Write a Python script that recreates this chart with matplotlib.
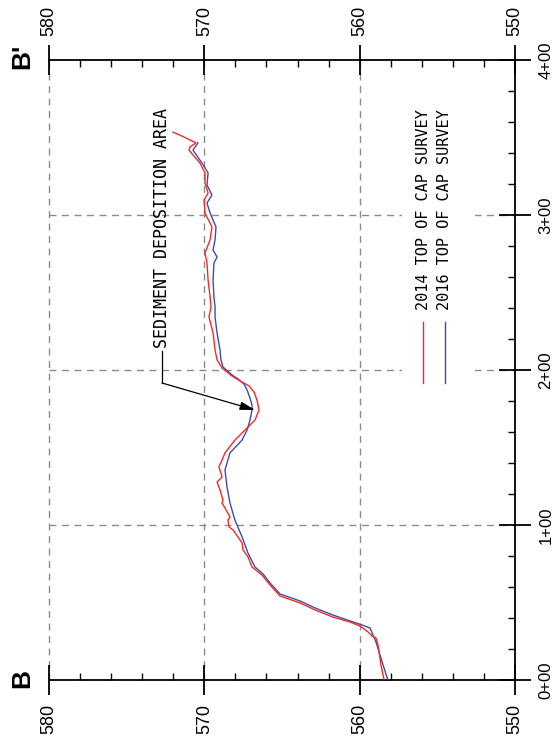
import matplotlib
matplotlib.use("Agg")
import matplotlib.pyplot as plt
from matplotlib.patches import Rectangle
from matplotlib.ticker import MultipleLocator, FuncFormatter

plt.rcParams["font.family"] = ["Liberation Sans", "DejaVu Sans"]

# ---------- data (station ft, elevation ft) ----------
sta_2014 = [0.0, 9.7, 22.6, 27.1, 28.4, 31.0, 34.8, 37.4, 40.6, 45.2, 49.7, 54.2,
            61.3, 67.7, 72.9, 79.4, 83.9, 88.4, 96.8, 98.7, 103.2, 105.2, 109.7,
            114.2, 116.1, 122.6, 127.7, 131.0, 133.5, 137.4, 146.5, 154.8, 161.3,
            167.7, 174.2, 180.6, 185.8, 189.7, 192.9, 196.1, 201.3, 206.5, 212.9,
            223.9, 234.2, 240.6, 247.1, 258.1, 269.0, 275.5, 283.9, 292.3, 301.3,
            309.7, 314.2, 320.6, 327.1, 333.5, 338.7, 341.9, 343.9, 346.5, 350.3,
            353.5]
elev_2014 = [558.43, 558.63, 558.82, 558.95, 559.21, 559.46, 559.98, 560.62, 561.72,
             562.88, 563.84, 565.13, 565.77, 566.29, 566.93, 567.19, 567.51, 567.57,
             568.15, 568.41, 568.48, 568.35, 568.60, 568.86, 568.80, 568.99, 569.18,
             568.86, 568.93, 569.06, 568.67, 568.03, 567.38, 566.74, 566.48, 566.61,
             566.80, 567.12, 567.70, 568.22, 568.86, 569.18, 569.31, 569.44, 569.70,
             569.57, 569.63, 569.76, 569.83, 569.96, 569.63, 569.51, 569.96, 570.02,
             569.76, 569.96, 569.96, 570.28, 570.73, 570.99, 570.92, 570.54, 571.31,
             572.02]

sta_2016 = [0.0, 7.7, 16.1, 24.5, 29.0, 33.5, 35.5, 38.1, 41.9, 46.5, 51.0, 55.5,
            62.6, 68.4, 72.9, 81.9, 92.3, 103.2, 114.2, 124.5, 135.5, 146.5, 154.8,
            161.3, 167.7, 174.2, 177.4, 181.9, 187.1, 191.0, 194.2, 196.8, 201.9,
            206.5, 212.9, 223.9, 234.2, 240.6, 247.1, 258.1, 269.0, 272.9, 277.4,
            283.9, 292.3, 301.3, 307.7, 312.9, 319.4, 327.1, 333.5, 341.9, 346.5]
elev_2016 = [558.18, 558.43, 558.69, 558.95, 559.14, 559.33, 559.85, 560.62, 561.72,
             562.88, 563.84, 565.13, 565.77, 566.22, 566.74, 567.19, 567.57, 568.03,
             568.35, 568.54, 568.67, 568.35, 567.57, 567.25, 567.06, 566.93, 566.93,
             567.06, 567.25, 567.45, 567.83, 568.22, 568.80, 568.93, 568.99, 569.18,
             569.31, 569.31, 569.38, 569.44, 569.38, 569.18, 569.44, 569.31, 569.25,
             569.63, 569.83, 569.51, 569.83, 569.76, 570.15, 570.73, 570.41]

elev_grid = [580, 570, 560]
sta_grid = [100, 200, 300]

RED = "#ee2b2b"
BLUE = "#3a4ea8"
GRID = "#8c8c8c"
MONO = "DejaVu Sans Mono"

# ---------- figure (profile drawn rotated: elevation across, station up) ----------
fig = plt.figure(figsize=(5.55, 7.41), dpi=100)
W, H = 555, 741
ax = fig.add_axes([49 / W, 1 - 680 / H, (515 - 49) / W, (680 - 60) / H])
ax.set_xlim(580, 550)
ax.set_ylim(0, 400)

for e in elev_grid:
    ax.axvline(e, color=GRID, lw=1.0, dashes=(5, 4), zorder=1, clip_on=False)
for s in sta_grid:
    ax.axhline(s, color=GRID, lw=1.0, dashes=(5, 4), zorder=1)

# white backing for the legend (masks grid)
ax.add_patch(Rectangle((552.55, 190.3), 557.27 - 552.55, 374.2 - 190.3,
                       facecolor="white", edgecolor="none", zorder=2))

ax.plot(elev_2014, sta_2014, color=RED, lw=1.0, zorder=4)
ax.plot(elev_2016, sta_2016, color=BLUE, lw=1.0, zorder=3)

# legend drawn by hand (rotated)
for e_leg, col, lab in [(555.92, RED, "2014 TOP OF CAP SURVEY"),
                        (554.51, BLUE, "2016 TOP OF CAP SURVEY")]:
    ax.plot([e_leg, e_leg], [191.6, 231.0], color=col, lw=1.0, zorder=5)
    ax.text(e_leg, 238.7, lab, rotation=90, ha="center", va="bottom",
            fontsize=11, family=MONO, zorder=5)

# annotation
ax.text(572.72, 214.0, "SEDIMENT DEPOSITION AREA", rotation=90, ha="center",
        va="bottom", fontsize=12, family=MONO)
ax.plot([572.72, 572.72], [212.0, 191.6], color="black", lw=0.9)
ax.annotate("", xy=(566.74, 174.2), xytext=(572.72, 191.6),
            arrowprops=dict(arrowstyle="-|>,head_length=0.9,head_width=0.25",
                            color="black", lw=0.9, shrinkA=0, shrinkB=0))

# axes frame and ticks
ax.spines["left"].set_visible(False)
for side in ["top", "bottom", "right"]:
    ax.spines[side].set_linewidth(1.3)

ax.xaxis.set_major_locator(MultipleLocator(10))
ax.xaxis.set_minor_locator(MultipleLocator(2))
ax.yaxis.set_major_locator(MultipleLocator(100))
ax.yaxis.set_minor_locator(MultipleLocator(20))
ax.yaxis.set_major_formatter(FuncFormatter(lambda v, p: f"{int(v // 100)}+{int(v % 100):02d}"))

ax.tick_params(axis="x", which="major", direction="inout", length=21.6, width=1.3,
               top=True, bottom=True, labeltop=True, labelbottom=True,
               labelsize=13, pad=6.5, labelrotation=90)
ax.tick_params(axis="x", which="minor", direction="in", length=5.2, width=1.0,
               top=True, bottom=True)
ax.tick_params(axis="y", which="major", direction="inout", length=23, width=1.3,
               left=False, right=True, labelleft=False, labelright=True,
               labelsize=12, pad=5.5, labelrotation=90)
ax.tick_params(axis="y", which="minor", direction="in", length=5.2, width=1.0,
               left=False, right=True)
for lbl in ax.get_yticklabels():
    lbl.set_va("center")

# section labels
fig.text(22 / W, 1 - 679 / H, "B", rotation=90, ha="center", va="center",
         fontsize=19, fontweight="bold")
fig.text(22 / W, 1 - 56 / H, "B'", rotation=90, ha="center", va="center",
         fontsize=19, fontweight="bold")

fig.savefig("out.png", dpi=100)
